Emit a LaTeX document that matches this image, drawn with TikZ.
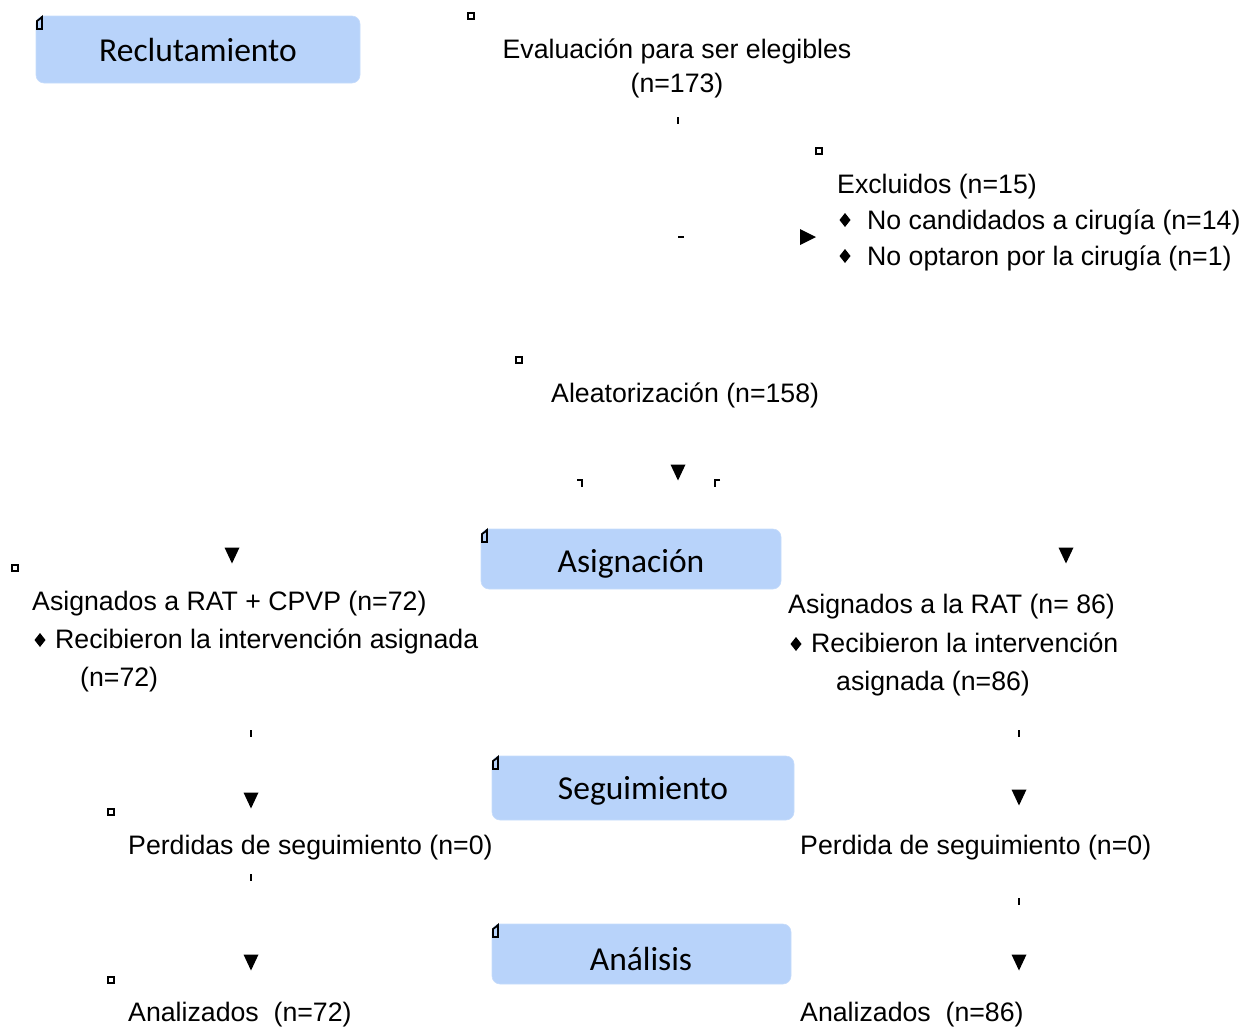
\documentclass[tikz,border=0pt]{standalone}
\usepackage{fontspec}
\setmainfont{Liberation Sans}
\newfontfamily\stagefont{Carlito}
\definecolor{stageblue}{RGB}{184,211,250}
\begin{document}
\begin{tikzpicture}[x=1pt,y=-1pt,
  stage/.style={fill=stageblue,draw=stageblue!80!white,line width=0.6pt,rounded corners=8pt,minimum height=#1, inner sep=0pt},
  stagelbl/.style={font=\stagefont\fontsize{33.5}{38}\selectfont},
  txt/.style={font=\fontsize{26.7}{36}\selectfont,inner sep=0pt,anchor=base west},
  ctxt/.style={font=\fontsize{26.7}{36}\selectfont,inner sep=0pt,anchor=base},
  sq/.style={draw=black,line width=1.3pt,minimum size=6pt,inner sep=0pt},
  tick/.style={line width=2pt},
  dia/.style={fill=black}]
\useasboundingbox (0,0) rectangle (1251,1026);
% stage boxes
\draw[stage=1pt] (36,16) rectangle (360,83);
\node[stagelbl] (recl) at (198,50) {Reclutamiento};
\draw[stage=1pt] (481,529) rectangle (781,589);
\node[stagelbl] (asig) at (631,564) {Asignación};
\draw[stage=1pt] (492,756) rectangle (794,820);
\node[stagelbl] (segu) at (643,791) {Seguimiento};
\draw[stage=1pt] (492,924) rectangle (791,984);
\node[stagelbl] (anal) at (641,959) {Análisis};
% little corner marks at stage boxes
\foreach \x/\y in {36/16,481/529,492/756,492/924}{
  \draw[line width=1.8pt] (\x+1,\y+13) -- (\x+1,\y+5) .. controls (\x+3,\y+3) and (\x+6,\y+2) .. (\x+6,\y+1) -- (\x+6,\y+13) -- cycle;
}
% small squares
\foreach \x/\y [count=\i] in {471/16,819/151,519/360,15/568,111/812,111/980}{
  \node[sq] (sq\i) at (\x,\y) {};
}
% texts
\node[ctxt] (eval1) at (677,58) {Evaluación para ser elegibles};
\node[ctxt] (eval2) at (677,92) {(n=173)};
\node[txt] (excl) at (837,193) {Excluidos (n=15)};
\node[txt] (excl1) at (867,229) {No candidados a cirugía (n=14)};
\node[txt] (excl2) at (867,265) {No optaron por la cirugía (n=1)};
\node[txt] (alea) at (551,402) {Aleatorización (n=158)};
\node[txt] (left1) at (32,610) {Asignados a RAT + CPVP (n=72)};
\node[txt] (left2) at (55,648) {Recibieron la intervención asignada};
\node[txt] (left3) at (80,686) {(n=72)};
\node[txt] (right1) at (788,613) {Asignados a la RAT (n= 86)};
\node[txt] (right2) at (811,652) {Recibieron la intervención};
\node[txt] (right3) at (836,690) {asignada (n=86)};
\node[txt] (perdL) at (128,854) {Perdidas de seguimiento (n=0)};
\node[txt] (perdR) at (800,854) {Perdida de seguimiento (n=0)};
\node[txt] (anaL) at (128,1021) {Analizados\ \ (n=72)};
\node[txt] (anaR) at (800,1021) {Analizados\ \ (n=86)};
% diamonds
\foreach \x/\y in {845/220,845/256,40/640,796/644}{
  \fill (\x,\y-7) -- (\x+5.5,\y) -- (\x,\y+7) -- (\x-5.5,\y) -- cycle;
}
% ticks
\draw[tick] (678,117) -- (678,124);
\draw[tick] (678,237) -- (684,237);
\draw[tick] (251,730) -- (251,737);
\draw[tick] (1019,730) -- (1019,737);
\draw[tick] (251,874) -- (251,881);
\draw[tick] (1019,898) -- (1019,905);
\draw[tick] (577,480) -- (582,480) -- (582,487);
\draw[tick] (720,480) -- (715,480) -- (715,487);
% down arrowheads
\foreach \x/\y in {678/472,232/555,1066/555,251/800,1019/797,251/962,1019/962}{
  \fill (\x-7.5,\y-7.5) -- (\x+7.5,\y-7.5) -- (\x,\y+8.5) -- cycle;
}
% right arrowhead
\fill (800,229) -- (816,237) -- (800,245) -- cycle;
\end{tikzpicture}
\end{document}
